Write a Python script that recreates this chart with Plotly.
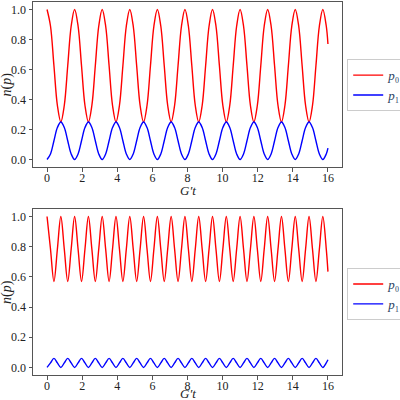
import plotly.graph_objects as go

# sample times (step pi/16) plus the final point at t = 16
t = [round(k * 0.19635, 4) for k in range(82)] + [16.0]

# top panel
top_p0 = [
    1.0, 0.89, 0.625, 0.36, 0.25, 0.36, 0.625, 0.89,
    1.0, 0.89, 0.625, 0.36, 0.25, 0.36, 0.625, 0.89,
    1.0, 0.89, 0.625, 0.36, 0.25, 0.36, 0.625, 0.89,
    1.0, 0.89, 0.625, 0.36, 0.25, 0.36, 0.625, 0.89,
    1.0, 0.89, 0.625, 0.36, 0.25, 0.36, 0.625, 0.89,
    1.0, 0.89, 0.625, 0.36, 0.25, 0.36, 0.625, 0.89,
    1.0, 0.89, 0.625, 0.36, 0.25, 0.36, 0.625, 0.89,
    1.0, 0.89, 0.625, 0.36, 0.25, 0.36, 0.625, 0.89,
    1.0, 0.89, 0.625, 0.36, 0.25, 0.36, 0.625, 0.89,
    1.0, 0.89, 0.625, 0.36, 0.25, 0.36, 0.625, 0.89,
    1.0, 0.89, 0.77,
]
top_p1 = [
    0.0, 0.037, 0.125, 0.213, 0.25, 0.213, 0.125, 0.037,
    0.0, 0.037, 0.125, 0.213, 0.25, 0.213, 0.125, 0.037,
    0.0, 0.037, 0.125, 0.213, 0.25, 0.213, 0.125, 0.037,
    0.0, 0.037, 0.125, 0.213, 0.25, 0.213, 0.125, 0.037,
    0.0, 0.037, 0.125, 0.213, 0.25, 0.213, 0.125, 0.037,
    0.0, 0.037, 0.125, 0.213, 0.25, 0.213, 0.125, 0.037,
    0.0, 0.037, 0.125, 0.213, 0.25, 0.213, 0.125, 0.037,
    0.0, 0.037, 0.125, 0.213, 0.25, 0.213, 0.125, 0.037,
    0.0, 0.037, 0.125, 0.213, 0.25, 0.213, 0.125, 0.037,
    0.0, 0.037, 0.125, 0.213, 0.25, 0.213, 0.125, 0.037,
    0.0, 0.037, 0.076,
]

# bottom panel
bot_p0 = [
    1.0, 0.785, 0.57, 0.785, 1.0, 0.785, 0.57, 0.785,
    1.0, 0.785, 0.57, 0.785, 1.0, 0.785, 0.57, 0.785,
    1.0, 0.785, 0.57, 0.785, 1.0, 0.785, 0.57, 0.785,
    1.0, 0.785, 0.57, 0.785, 1.0, 0.785, 0.57, 0.785,
    1.0, 0.785, 0.57, 0.785, 1.0, 0.785, 0.57, 0.785,
    1.0, 0.785, 0.57, 0.785, 1.0, 0.785, 0.57, 0.785,
    1.0, 0.785, 0.57, 0.785, 1.0, 0.785, 0.57, 0.785,
    1.0, 0.785, 0.57, 0.785, 1.0, 0.785, 0.57, 0.785,
    1.0, 0.785, 0.57, 0.785, 1.0, 0.785, 0.57, 0.785,
    1.0, 0.785, 0.57, 0.785, 1.0, 0.785, 0.57, 0.785,
    1.0, 0.785, 0.635,
]
bot_p1 = [
    0.0, 0.03, 0.06, 0.03, 0.0, 0.03, 0.06, 0.03,
    0.0, 0.03, 0.06, 0.03, 0.0, 0.03, 0.06, 0.03,
    0.0, 0.03, 0.06, 0.03, 0.0, 0.03, 0.06, 0.03,
    0.0, 0.03, 0.06, 0.03, 0.0, 0.03, 0.06, 0.03,
    0.0, 0.03, 0.06, 0.03, 0.0, 0.03, 0.06, 0.03,
    0.0, 0.03, 0.06, 0.03, 0.0, 0.03, 0.06, 0.03,
    0.0, 0.03, 0.06, 0.03, 0.0, 0.03, 0.06, 0.03,
    0.0, 0.03, 0.06, 0.03, 0.0, 0.03, 0.06, 0.03,
    0.0, 0.03, 0.06, 0.03, 0.0, 0.03, 0.06, 0.03,
    0.0, 0.03, 0.06, 0.03, 0.0, 0.03, 0.06, 0.03,
    0.0, 0.03, 0.051,
]

x_ticks = [0, 2, 4, 6, 8, 10, 12, 14, 16]
y_ticks = [0.0, 0.2, 0.4, 0.6, 0.8, 1.0]
y_labels = ["0.0", "0.2", "0.4", "0.6", "0.8", "1.0"]

serif = "Liberation Serif"
name0 = "<i>p</i>₀"
name1 = "<i>p</i>₁"

fig = go.Figure()

for xa, ya, leg, p0, p1 in [("x", "y", "legend", top_p0, top_p1),
                            ("x2", "y2", "legend2", bot_p0, bot_p1)]:
    fig.add_trace(go.Scatter(x=t, y=p0, mode="lines", name=name0, xaxis=xa, yaxis=ya,
                             legend=leg, line=dict(color="red", width=1.4, shape="spline")))
    fig.add_trace(go.Scatter(x=t, y=p1, mode="lines", name=name1, xaxis=xa, yaxis=ya,
                             legend=leg, line=dict(color="blue", width=1.4, shape="spline")))

axis_common = dict(showline=True, mirror=True, linecolor="#555", linewidth=1,
                   ticks="outside", ticklen=3.5, tickcolor="#555", showgrid=False,
                   zeroline=False, automargin=False,
                   tickfont=dict(family=serif, size=12, color="#222"))
xstyle = dict(axis_common, range=[-0.8, 16.8], tickvals=x_ticks, ticklabelstandoff=-4)
ystyle = dict(axis_common, range=[-0.05, 1.05], tickvals=y_ticks, ticktext=y_labels)

legend_style = dict(bgcolor="white", bordercolor="#ccc", borderwidth=1,
                    font=dict(family=serif, size=13), xanchor="left", yanchor="top",
                    tracegroupgap=0, itemwidth=30)

title_font = dict(family=serif, size=13, color="#222")

fig.update_layout(
    width=400, height=400,
    margin=dict(l=0, r=0, t=0, b=0, autoexpand=False),
    paper_bgcolor="white", plot_bgcolor="white",
    xaxis=dict(xstyle, domain=[0.0825, 0.855], anchor="y"),
    yaxis=dict(ystyle, domain=[0.5825, 0.995], anchor="x"),
    xaxis2=dict(xstyle, domain=[0.0825, 0.855], anchor="y2"),
    yaxis2=dict(ystyle, domain=[0.0625, 0.4775], anchor="x2"),
    legend=dict(legend_style, x=0.868, y=0.852),
    legend2=dict(legend_style, x=0.868, y=0.33),
)

# axis titles placed as paper annotations
for ty in [0.524, 0.0165]:
    fig.add_annotation(text="<i>G′t</i>", x=0.469, y=ty, xref="paper", yref="paper",
                       showarrow=False, font=title_font, xanchor="center", yanchor="middle")
for ty in [0.789, 0.27]:
    fig.add_annotation(text="<i>n</i>(<i>p</i>)", x=0.0175, y=ty, xref="paper", yref="paper",
                       showarrow=False, font=dict(title_font, size=14), textangle=-90,
                       xanchor="center", yanchor="middle")

# the page body has an 8px margin by default; drop it so the figure sits at 0,0
fig.write_html("out.html", config={"displayModeBar": False},
               post_script="document.body.style.margin='0';")
